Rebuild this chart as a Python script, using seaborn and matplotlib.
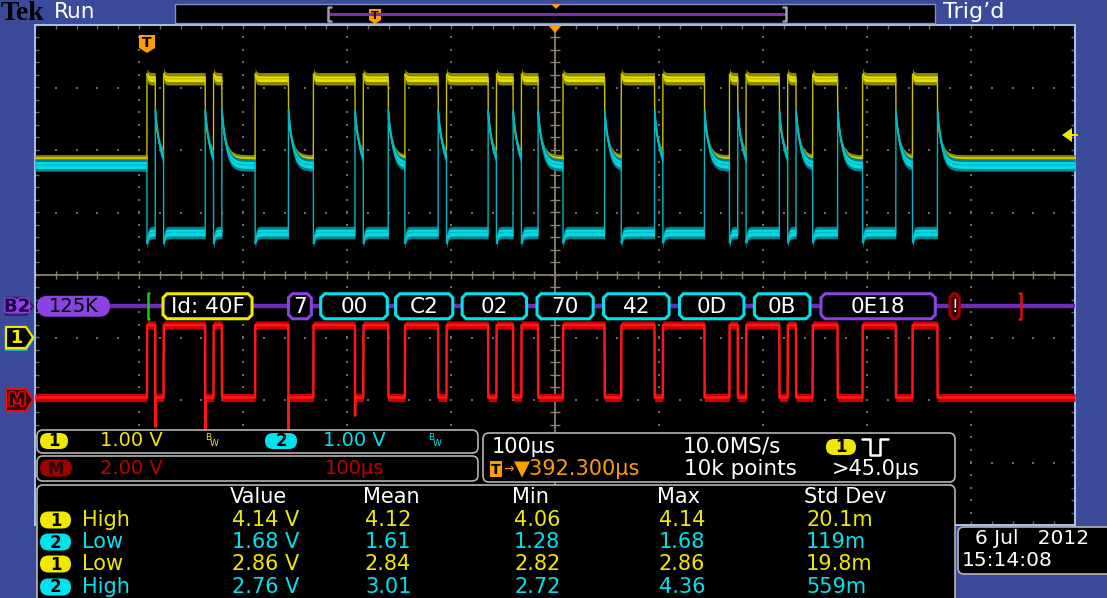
import numpy as np
import matplotlib
matplotlib.use('Agg')
import matplotlib.pyplot as plt
import matplotlib.patheffects as pe
from matplotlib.patches import FancyBboxPatch, Polygon, Rectangle
import seaborn as sns

sns.set_theme(style='dark')
plt.rcParams['font.family'] = ['DejaVu Sans', 'Noto Sans']

# ---- scope settings (from the readouts) ----
time_per_div = 100.0      # µs/div
trig_delay = 392.3        # µs, trigger -> screen centre
ch_scale = 1.0            # V/div, ch1 and ch2
math_scale = 2.0          # V/div
ch1_pos = -1.0            # div
ch2_pos = -1.0
math_pos = -2.0
bus_pos = -0.5
trig_level = 3.24         # V

# ---- CAN frame, dominant intervals in µs after the trigger ----
dom_start = [0, 16, 64, 104, 160, 208, 248, 288, 336, 360, 400, 456, 496, 560, 576, 616, 640, 688, 736]
dom_end = [8, 56, 72, 136, 200, 232, 280, 328, 352, 376, 440, 488, 536, 568, 608, 624, 664, 720, 760]

# levels (measurement table) and the ringing seen after each edge
ch1_low, ch1_high = 2.86, 4.14
ch2_high, ch2_low = 2.76, 1.68
ch1_tail, ch2_tail, tail_tau = 3.53, 3.64, 4.0
math_rec, math_dom = 0.08, 2.40
spike_t = [8, 56, 136, 200]
spike_v = [-0.85, -0.95, -0.95, -0.50]

# ---- decoded bus packets ----
pkt_label = ['Id: 40F', '7', '00', 'C2', '02', '70', '42', '0D', '0B', '0E18', '!']
pkt_start = [15.4, 136, 167, 239, 303, 375, 439, 512, 584, 648, 772]
pkt_end = [101, 158, 231, 294, 365, 429, 502, 574, 637.5, 758, 781]
pkt_kind = ['id', 'ctl', 'data', 'data', 'data', 'data', 'data', 'data', 'data', 'ctl', 'err']
frame_start, frame_end = 0.5, 840.4

# ---- measurement table ----
meas_cols = ['Value', 'Mean', 'Min', 'Max', 'Std Dev']
meas_src = ['1', '2', '1', '2']
meas_name = ['High', 'Low', 'Low', 'High']
meas_value = ['4.14 V', '1.68 V', '2.86 V', '2.76 V']
meas_mean = ['4.12', '1.61', '2.84', '3.01']
meas_min = ['4.06', '1.28', '2.82', '2.72']
meas_max = ['4.14', '1.68', '2.86', '4.36']
meas_std = ['20.1m', '119m', '19.8m', '559m']

W, H = 1107, 598
BLUE = '#3b4a99'
YEL, CYN, RED, ORG, PUR = '#f0e800', '#00e3ee', '#ff1616', '#ff9d00', '#8a42e0'
GRID = '#6a6a6a'
TAN = '#8a8070'

# ---- build the traces ----
xlo = trig_delay - 5 * time_per_div
xhi = trig_delay + 5 * time_per_div
t = np.linspace(xlo, xhi, 10000)
dom = np.zeros(t.shape, bool)
since_fall = np.full(t.shape, np.inf)
since_rise = np.full(t.shape, np.inf)
for a, b in zip(dom_start, dom_end):
    dom |= (t >= a) & (t < b)
    m = t >= b
    since_fall[m] = np.minimum(since_fall[m], t[m] - b)
    m = t >= a
    since_rise[m] = np.minimum(since_rise[m], t[m] - a)
fall = np.exp(-since_fall / tail_tau)
rise = np.exp(-since_rise / 1.0)

ch1 = np.where(dom, ch1_high + 0.08 * rise, ch1_low + (ch1_tail - ch1_low) * fall)
ch2 = np.where(dom, ch2_low - 0.18 * rise, ch2_high + (ch2_tail - ch2_high) * fall)
math = np.where(dom, math_dom, math_rec)
for ts, vs in zip(spike_t, spike_v):
    math[np.argmin(np.abs(t - ts))] = vs

y1 = ch1 / ch_scale + ch1_pos
y2 = ch2 / ch_scale + ch2_pos
ym = math / math_scale + math_pos

px_us = time_per_div / 104.0
px_div = 1 / 62.5


def t2px(v):
    return 35 + (v - xlo) / px_us


def div2px(d):
    return 275 - d / px_div


fig = plt.figure(figsize=(W / 100, H / 100), dpi=100, facecolor=BLUE)

# ---- graticule / waveform area ----
sc = fig.add_axes([35 / W, (H - 525) / H, 1040 / W, 500 / H])
sc.set_facecolor('black')
sc.set_xlim(xlo, xhi)
sc.set_ylim(-4, 4)
sc.set_xticks([])
sc.set_yticks([])
sc.grid(False)
for s in sc.spines.values():
    s.set_color('#a9c3f2')
    s.set_linewidth(1.4)

xmaj = xlo + time_per_div * np.arange(11)
xmin_ = xlo + 20 * np.arange(51)
ymaj = np.arange(-4, 5)
ymin_ = np.arange(-4, 4.01, 0.2)
gx, gy = np.meshgrid(xmaj[1:-1], ymin_)
sc.scatter(gx.ravel(), gy.ravel(), s=1.3, c=GRID, marker='s', linewidths=0, zorder=1)
gx, gy = np.meshgrid(xmin_, ymaj[1:-1])
sc.scatter(gx.ravel(), gy.ravel(), s=1.3, c=GRID, marker='s', linewidths=0, zorder=1)
sc.vlines(xmin_, 3.94, 4, color=GRID, lw=1, zorder=1)
sc.vlines(xmin_, -4, -3.94, color=GRID, lw=1, zorder=1)
sc.hlines(ymin_, xlo, xlo + 4, color=GRID, lw=1, zorder=1)
sc.hlines(ymin_, xhi - 4, xhi, color=GRID, lw=1, zorder=1)
sc.axvline(trig_delay, color=TAN, lw=1.3, zorder=1.5)
sc.axhline(0, color=TAN, lw=1.3, zorder=1.5)
sc.vlines(xmin_, -0.07, 0.07, color=TAN, lw=1, zorder=1.5)
sc.hlines(ymin_, trig_delay - 4.5, trig_delay + 4.5, color=TAN, lw=1, zorder=1.5)

# ch1 (yellow)
hw1o = np.where(dom, 0.10, 0.065)
hw1i = np.where(dom, 0.045, 0.03)
sc.fill_between(t, y1 - hw1o, y1 + hw1o, color='#8a8600', lw=0, zorder=3)
sc.fill_between(t, y1 - hw1i, y1 + hw1i, color='#e8e000', lw=0, zorder=3.1)
sns.lineplot(x=t, y=y1, ax=sc, color='#c8c200', lw=1, estimator=None, sort=False, zorder=3.2)
# ch2 (cyan)
sc.fill_between(t, y2 - 0.1, y2 + 0.1, color='#00838c', lw=0, zorder=4)
sc.fill_between(t, y2 - 0.055, y2 + 0.055, color='#00dde8', lw=0, zorder=4.1)
sns.lineplot(x=t, y=y2, ax=sc, color='#00b8c2', lw=1, estimator=None, sort=False, zorder=4.2)
# math (red)
sc.fill_between(t, ym - 0.065, ym + 0.065, color='#d00000', lw=0, zorder=5)
sns.lineplot(x=t, y=ym, ax=sc, color=RED, lw=1.8, estimator=None, sort=False, zorder=5.1)

# ---- bus decode row ----
sc.plot([(110 - 35) * px_us + xlo, xhi], [bus_pos, bus_pos], color='#6c2cb8', lw=3.2, zorder=6)
edge_of = {'id': YEL, 'ctl': PUR, 'data': CYN, 'err': '#a00000'}
face_of = {'id': 'black', 'ctl': 'black', 'data': 'black', 'err': '#3a0000'}
cx, cy, bh = 4 * px_us, 4 * px_div, 12.5 * px_div
for x0, x1, lab, kind in zip(pkt_start, pkt_end, pkt_label, pkt_kind):
    c = min(cx, (x1 - x0) / 3)
    yt, yb = bus_pos + bh, bus_pos - bh
    pts = [(x0 + c, yt), (x1 - c, yt), (x1, yt - cy), (x1, yb + cy),
           (x1 - c, yb), (x0 + c, yb), (x0, yb + cy), (x0, yt - cy)]
    sc.add_patch(Polygon(pts, closed=True, fc=face_of[kind], ec=edge_of[kind], lw=2.2, zorder=7))
    sc.text((x0 + x1) / 2, bus_pos - 0.01, lab, color='white', fontsize=15.5 if kind != 'err' else 12,
            ha='center', va='center', zorder=8)
# frame brackets
sc.plot([frame_start + 1.5, frame_start, frame_start, frame_start + 1.5],
        [bus_pos + 0.21, bus_pos + 0.21, bus_pos - 0.21, bus_pos - 0.21], color='#10d010', lw=1.8, zorder=8)
sc.plot([frame_end - 1.5, frame_end, frame_end, frame_end - 1.5],
        [bus_pos + 0.21, bus_pos + 0.21, bus_pos - 0.21, bus_pos - 0.21], color='#e01010', lw=1.8, zorder=8)

# ---- overlay in pixel coordinates ----
ov = fig.add_axes([0, 0, 1, 1], zorder=5)
ov.set_xlim(0, W)
ov.set_ylim(H, 0)
ov.axis('off')

# top status bar
ov.add_patch(Rectangle((175, 4), 760, 19, fc='black', ec='#7f8fc4', lw=1))
ov.plot([330, 785], [14, 14], color='#7a2fb8', lw=2.2)
ov.plot([331, 328, 328, 331], [7, 7, 21, 21], color='#a0a0a0', lw=1.8)
ov.plot([783, 786, 786, 783], [7, 7, 21, 21], color='#a0a0a0', lw=1.8)
ov.add_patch(Polygon([(369, 9), (381, 9), (381, 20), (375, 24), (369, 20)], fc=ORG, ec='none'))
ov.text(375, 16, 'T', color='black', fontsize=8, fontweight='bold', ha='center', va='center')
ov.add_patch(Polygon([(551, 4), (561, 4), (556, 9)], fc=ORG, ec='none'))
ov.text(1, 13, 'Tek', color='black', fontsize=20, fontweight='bold', family='Liberation Serif', va='center')
ov.text(54, 12, 'Run', color='white', fontsize=15.5, va='center')
ov.text(943, 12, 'Trig’d', color='white', fontsize=16, va='center')

# trigger position markers
xc = t2px(trig_delay)
ov.add_patch(Polygon([(xc - 7, 25), (xc + 7, 25), (xc, 33)], fc=ORG, ec='none'))
xt = t2px(0)
ov.add_patch(Polygon([(xt - 8, 35), (xt + 8, 35), (xt + 8, 48), (xt, 53), (xt - 8, 48)], fc=ORG, ec='none'))
ov.text(xt, 43, 'T', color='black', fontsize=10, fontweight='bold', ha='center', va='center')
# trigger level
yl = div2px(trig_level / ch_scale + ch1_pos)
ov.add_patch(Polygon([(1062, yl), (1072, yl - 7), (1072, yl + 7)], fc=YEL, ec='none'))
ov.plot([1071, 1077], [yl, yl], color=YEL, lw=1.5)


def left_marker(ymid, half, fc, ec, label, tc, stroke):
    pts = [(6, ymid - half), (26, ymid - half), (33, ymid), (26, ymid + half), (6, ymid + half)]
    ov.add_patch(Polygon(pts, closed=True, fc=fc, ec=ec, lw=1.6))
    ov.text(17, ymid + 0.5, label, color=tc, fontsize=13, fontweight='bold', ha='center', va='center',
            path_effects=[pe.withStroke(linewidth=2, foreground=stroke)])


left_marker(div2px(ch2_pos) + 1.5, 10.5, 'black', CYN, '', CYN, 'black')
left_marker(div2px(ch1_pos), 10.5, 'black', YEL, '1', YEL, 'black')
left_marker(div2px(bus_pos), 8.5, PUR, '#3a1a70', 'B2', '#200040', PUR)
left_marker(div2px(math_pos), 11, '#400000', '#e01010', 'M', '#300000', '#e01010')

# bus label pill
ov.add_patch(FancyBboxPatch((37, div2px(bus_pos) - 10.5), 73, 21,
                            boxstyle='round,pad=0,rounding_size=10.5', fc=PUR, ec='none'))
ov.text(74, div2px(bus_pos), '125K', color='black', fontsize=14, ha='center', va='center')


def panel(x, y, w, h):
    ov.add_patch(FancyBboxPatch((x, y), w, h, boxstyle='round,pad=0,rounding_size=6',
                                fc='black', ec='#b4b4b4', lw=1.2))


def pill(x, y, w, h, fc, label, tc='black'):
    ov.add_patch(FancyBboxPatch((x, y - h / 2), w, h, boxstyle=f'round,pad=0,rounding_size={h / 2}',
                                fc=fc, ec='none'))
    ov.text(x + w / 2, y + 0.5, label, color=tc, fontsize=12, fontweight='bold', ha='center', va='center')


# channel readouts
panel(37, 430, 441, 23)
panel(37, 456, 441, 25)
pill(40, 441, 28, 16, YEL, '1')
ov.text(100, 441, '1.00 V', color=YEL, fontsize=14, va='center')
ov.text(205, 437, 'B', color=YEL, fontsize=6.5, va='center')
ov.text(210, 444, 'W', color=YEL, fontsize=6.5, va='center')
pill(265, 441, 32, 16, CYN, '2')
ov.text(323, 441, '1.00 V', color=CYN, fontsize=14, va='center')
ov.text(428, 437, 'B', color=CYN, fontsize=6.5, va='center')
ov.text(433, 444, 'W', color=CYN, fontsize=6.5, va='center')
pill(40, 468, 32, 17, '#a00000', 'M', '#2a0000')
ov.text(100, 468, '2.00 V', color='#c00000', fontsize=14, va='center')
ov.text(325, 468, '100µs', color='#c00000', fontsize=14, va='center')

# horizontal / trigger readout
panel(483, 433, 472, 49)
ov.text(492, 447, '100µs', color='white', fontsize=15, va='center')
ov.text(683, 447, '10.0MS/s', color='white', fontsize=15.5, va='center')
pill(826, 447, 30, 16, YEL, '1')
ov.plot([862, 870, 870, 880, 880, 888], [439, 439, 455, 455, 439, 439], color='white', lw=1.8)
ov.add_patch(Rectangle((490, 461), 12, 16, fc=ORG, ec='none'))
ov.text(496, 469.5, 'T', color='black', fontsize=10, fontweight='bold', ha='center', va='center')
ov.text(503, 469, '→', color=ORG, fontsize=9, va='center')
ov.text(514, 469, '▼392.300µs', color=ORG, fontsize=15, va='center')
ov.text(684, 469, '10k points', color='white', fontsize=15.5, va='center')
ov.text(832, 469, '>45.0µs', color='white', fontsize=15, va='center')

# measurement table
panel(37, 485, 918, 130)
col_x = [230, 363, 512, 657, 804]
for cx_, name in zip(col_x, meas_cols):
    ov.text(cx_, 497, name, color='white', fontsize=15, va='center')
row_y = [520, 542, 564, 587]
for i, yy in enumerate(row_y):
    col = YEL if meas_src[i] == '1' else CYN
    pill(40, yy, 31, 17, col, meas_src[i])
    ov.text(82, yy, meas_name[i], color=col, fontsize=15, va='center')
    vals = [meas_value[i], meas_mean[i], meas_min[i], meas_max[i], meas_std[i]]
    for cx_, v in zip(col_x, vals):
        ov.text(cx_ + 2, yy, v, color=col, fontsize=15, va='center')

# date box
ov.add_patch(FancyBboxPatch((958, 527), 170, 47, boxstyle='round,pad=0,rounding_size=6',
                            fc='black', ec='#b4b4b4', lw=1.2))
ov.text(975, 538, '6 Jul   2012', color='white', fontsize=14.5, va='center')
ov.text(962, 561, '15:14:08', color='white', fontsize=14.5, va='center')

fig.savefig('out.png', dpi=100, facecolor=BLUE)
